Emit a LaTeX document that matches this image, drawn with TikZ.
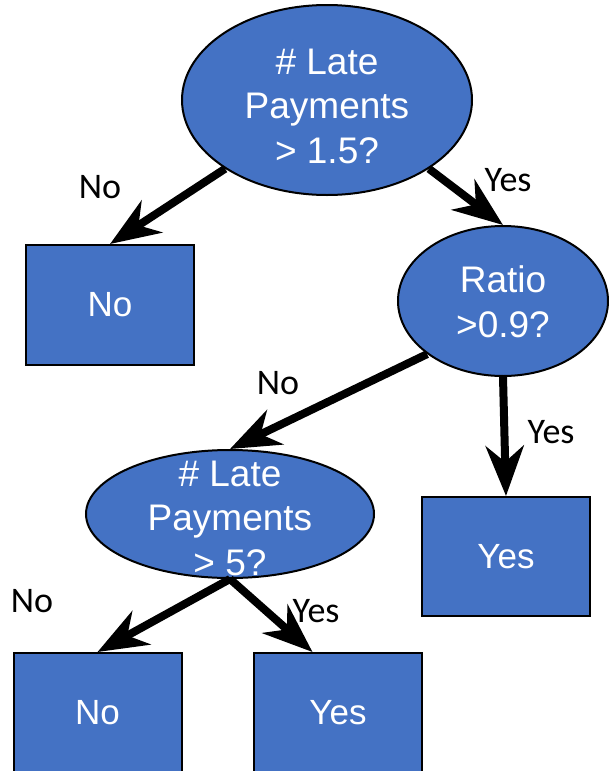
\documentclass[tikz,border=0pt]{standalone}
\usepackage{fontspec}
\setmainfont{Liberation Sans}
\newfontfamily\lblfont{Carlito}
\usetikzlibrary{shapes.geometric,arrows.meta,calc}
\definecolor{nodeblue}{HTML}{4472C4}
\tikzset{
  ell/.style={ellipse, draw=black, line width=2pt, fill=nodeblue, inner sep=0pt},
  boxnode/.style={rectangle, draw=black, line width=2pt, fill=nodeblue, inner sep=0pt,
    minimum width=168pt, minimum height=120pt, text=white,
    font=\fontsize{35}{44}\selectfont},
  etext/.style={text=white, align=center, inner sep=0pt, font=\fontsize{37}{44.5}\selectfont},
  lbl/.style={inner sep=0pt, font=\lblfont\fontsize{36}{40}\selectfont},
  conn/.style={line width=8pt, -{Stealth[length=50pt,width=38pt,inset=16pt]}},
}
\begin{document}
\begin{tikzpicture}[x=1pt,y=-1pt]
\useasboundingbox (0,0) rectangle (608,771);
% decision ellipses
\node[ell, minimum width=290pt, minimum height=190pt] (late1) at (327,100) {};
\node[etext] (late1t) at ([yshift=-6pt]late1.center) {\# Late\\Payments\\> 1.5?};
\node[ell, minimum width=210pt, minimum height=150pt] (ratio) at (503,301) {};
\node[etext] (ratiot) at ([yshift=-1pt]ratio.center) {Ratio\\>0.9?};
\node[ell, minimum width=288pt, minimum height=128pt] (late2) at (230,514) {};
\node[etext] (late2t) at ([yshift=-4pt]late2.center) {\# Late\\Payments\\> 5?};
% leaf boxes
\node[boxnode] (leafA) at (110,305) {No};
\node[boxnode, minimum height=119pt] (leafB) at (506,556.5) {Yes};
\node[boxnode] (leafC) at (97.5,713) {No};
\node[boxnode] (leafD) at (338,713) {Yes};
% connectors
\coordinate (dEnd) at ($(leafD.north west)!0.35!(leafD.north east)$);
\draw[conn] (late1.214) -- (leafA.north);
\draw[conn] (late1.326) -- (ratio.north);
\draw[conn] (ratio.215) -- (late2.north);
\draw[conn] (ratio.south) -- (leafB.north);
\draw[conn] (late2.south) -- (leafC.north);
\draw[conn] (late2.south) -- (dEnd);
% edge labels
\node[lbl] (l1) at (100,187) {No};
\node[lbl] (l2) at (508,180) {Yes};
\node[lbl] (l3) at (278,383) {No};
\node[lbl] (l4) at (551,432) {Yes};
\node[lbl] (l5) at (32,601) {No};
\node[lbl] (l6) at (316,611) {Yes};
\end{tikzpicture}
\end{document}
